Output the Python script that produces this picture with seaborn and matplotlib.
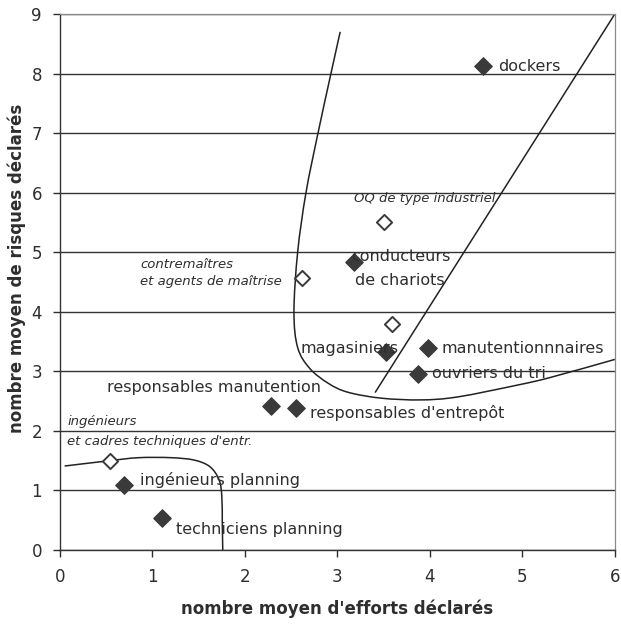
import matplotlib
matplotlib.use("Agg")
import matplotlib.pyplot as plt
from matplotlib.path import Path
from matplotlib.patches import PathPatch
import seaborn as sns
import pandas as pd

sns.set_theme(style="white")
plt.rcParams['font.family'] = ['DejaVu Sans']

# --- data ---
filled_names = ["dockers", "conducteurs\nde chariots", "magasiniers", "manutentionnnaires",
                "ouvriers du tri", "responsables manutention", "responsables d'entrepôt",
                "ingénieurs planning", "techniciens planning"]
filled_x = [4.57, 3.18, 3.53, 3.98, 3.87, 2.28, 2.55, 0.69, 1.10]
filled_y = [8.12, 4.83, 3.32, 3.39, 2.95, 2.42, 2.38, 1.09, 0.53]

open_names = ["OQ de type industriel", "contremaîtres\net agents de maîtrise", "",
              "ingénieurs\net cadres techniques d'entr."]
open_x = [3.50, 2.62, 3.59, 0.54]
open_y = [5.50, 4.56, 3.79, 1.50]

# hand-drawn separating curves (anchor points)
curve_big_x = [3.03, 2.93, 2.79, 2.66, 2.57, 2.53, 2.57, 2.70, 2.90, 3.11, 3.47, 3.90,
               4.30, 4.95, 5.31, 6.00]
curve_big_y = [8.70, 8.00, 7.00, 6.00, 5.00, 4.00, 3.40, 3.05, 2.80, 2.65, 2.55, 2.52,
               2.57, 2.77, 2.90, 3.20]
curve_small_x = [0.05, 0.54, 0.85, 1.20, 1.45, 1.62, 1.72, 1.75, 1.755, 1.76]
curve_small_y = [1.41, 1.50, 1.55, 1.55, 1.51, 1.40, 1.18, 0.90, 0.45, 0.00]
line_x = [3.41, 6.00]
line_y = [2.65, 9.00]

x_ticks = [0, 1, 2, 3, 4, 5, 6]
y_ticks = [0, 1, 2, 3, 4, 5, 6, 7, 8, 9]
x_label = "nombre moyen d'efforts déclarés"
y_label = "nombre moyen de risques déclarés"

dark = "#3a3a3a"
txt = "#2e2e2e"


def smooth_path(xs, ys):
    """Bezier path passing through the anchor points (Catmull-Rom tangents)."""
    pts = list(zip(xs, ys))
    verts = [pts[0]]
    codes = [Path.MOVETO]
    n = len(pts)
    for i in range(n - 1):
        p0 = pts[i - 1] if i > 0 else pts[i]
        p1 = pts[i]
        p2 = pts[i + 1]
        p3 = pts[i + 2] if i + 2 < n else pts[i + 1]
        c1 = (p1[0] + (p2[0] - p0[0]) / 6.0, p1[1] + (p2[1] - p0[1]) / 6.0)
        c2 = (p2[0] - (p3[0] - p1[0]) / 6.0, p2[1] - (p3[1] - p1[1]) / 6.0)
        verts += [c1, c2, p2]
        codes += [Path.CURVE4, Path.CURVE4, Path.CURVE4]
    return Path(verts, codes)


fig = plt.figure(figsize=(6.21, 6.24), dpi=100)
ax = fig.add_axes([0.0966, 0.1186, 0.8935, 0.859])

df_f = pd.DataFrame({"x": filled_x, "y": filled_y})
df_o = pd.DataFrame({"x": open_x, "y": open_y})

for cx, cy in [(curve_big_x, curve_big_y), (curve_small_x, curve_small_y)]:
    ax.add_patch(PathPatch(smooth_path(cx, cy), facecolor="none", edgecolor="#222222",
                           lw=1.1, zorder=2))
sns.lineplot(x=line_x, y=line_y, color="#222222", lw=1.1, ax=ax, zorder=2)

sns.scatterplot(data=df_f, x="x", y="y", marker="D", s=80, color=dark,
                edgecolor=dark, linewidth=0.8, ax=ax, zorder=3)
sns.scatterplot(data=df_o, x="x", y="y", marker="D", s=60, color="white",
                edgecolor=dark, linewidth=1.4, ax=ax, zorder=3)

fs = 11.5
fsi = 9.5
# filled labels
ax.text(4.57 + 0.17, 8.12, filled_names[0], fontsize=fs, color=txt, va="center", ha="left")
ax.text(3.15, 4.83 + 0.10, "conducteurs", fontsize=fs, color=txt, va="center", ha="left")
ax.text(3.19, 4.83 - 0.30, "de chariots", fontsize=fs, color=txt, va="center", ha="left")
ax.text(3.66, 3.38, filled_names[2], fontsize=fs, color=txt, va="center", ha="right")
ax.text(3.98 + 0.15, 3.39, filled_names[3], fontsize=fs, color=txt, va="center", ha="left")
ax.text(3.87 + 0.15, 2.97, filled_names[4], fontsize=fs, color=txt, va="center", ha="left")
ax.text(0.51, 2.73, filled_names[5], fontsize=fs, color=txt, va="center", ha="left")
ax.text(2.70, 2.30, filled_names[6], fontsize=fs, color=txt, va="center", ha="left")
ax.text(0.87, 1.17, filled_names[7], fontsize=fs, color=txt, va="center", ha="left")
ax.text(1.25, 0.34, filled_names[8], fontsize=fs, color=txt, va="center", ha="left")
# open labels (italic)
ax.text(3.18, 5.90, open_names[0], fontsize=fsi, color=txt, va="center", ha="left", style="italic")
ax.text(0.87, 4.80, "contremaîtres", fontsize=fsi, color=txt, va="center", ha="left", style="italic")
ax.text(0.87, 4.50, "et agents de maîtrise", fontsize=fsi, color=txt, va="center", ha="left", style="italic")
ax.text(0.08, 2.15, "ingénieurs", fontsize=fsi, color=txt, va="center", ha="left", style="italic")
ax.text(0.08, 1.83, "et cadres techniques d'entr.", fontsize=fsi, color=txt, va="center", ha="left", style="italic")

ax.set_xlim(0, 6)
ax.set_ylim(0, 9)
ax.set_xticks(x_ticks)
ax.set_yticks(y_ticks)
ax.set_xticklabels([str(t) for t in x_ticks])
ax.set_yticklabels([str(t) for t in y_ticks])
ax.tick_params(axis="both", labelsize=12, colors=txt, direction="out", length=5, width=1,
               bottom=True, left=True, pad=8)
ax.tick_params(axis="x", pad=8)
ax.yaxis.grid(True, color="#333333", lw=1.0)
ax.xaxis.grid(False)
ax.set_axisbelow(True)
for side in ["left", "bottom"]:
    ax.spines[side].set_color("#333333")
    ax.spines[side].set_linewidth(1.0)
for side in ["right", "top"]:
    ax.spines[side].set_color("#8a8a8a")
    ax.spines[side].set_linewidth(0.9)

ax.set_xlabel(x_label, fontsize=12, fontweight="bold", color=txt)
ax.set_ylabel(y_label, fontsize=12, fontweight="bold", color=txt)
ax.xaxis.set_label_coords(0.50, -0.092)
ax.yaxis.set_label_coords(-0.062, 0.526)

fig.savefig("out.png", dpi=100, facecolor="white")
